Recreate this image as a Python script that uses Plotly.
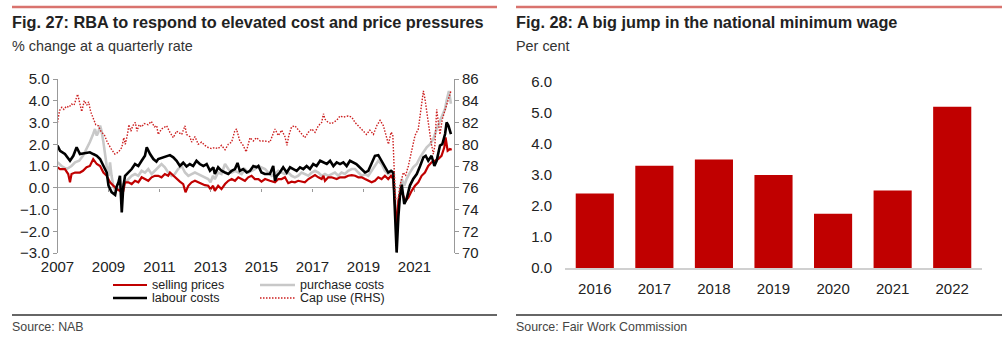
import plotly.graph_objects as go

W, H = 1008, 343
FONT = "Liberation Sans, Arial, sans-serif"

# ---------------- Fig. 27 data (decimal years) ----------------
labour_t = [2007.00,2007.10,2007.29,2007.42,2007.49,2007.62,2007.75,2007.88,2008.08,2008.27,2008.40,2008.54,2008.67,2008.80,2008.93,
            2009.00,2009.12,2009.26,2009.32,2009.39,2009.45,2009.52,2009.58,2009.65,2009.78,2009.91,2010.04,2010.17,2010.30,2010.43,
            2010.50,2010.63,2010.76,2010.88,2010.95,2011.15,2011.28,2011.41,2011.54,2011.67,2011.80,2011.93,2012.06,2012.19,2012.32,
            2012.45,2012.58,2012.72,2012.85,2012.98,2013.11,2013.17,2013.30,2013.43,2013.57,2013.70,2013.83,2013.96,2014.06,2014.15,
            2014.28,2014.42,2014.55,2014.68,2014.81,2014.88,2015.00,2015.13,2015.33,2015.46,2015.53,2015.60,2015.72,2015.85,2015.99,
            2016.12,2016.25,2016.38,2016.51,2016.64,2016.77,2016.90,2017.03,2017.16,2017.30,2017.43,2017.56,2017.69,2017.82,2017.95,
            2018.08,2018.21,2018.34,2018.47,2018.60,2018.72,2018.80,2018.93,2019.06,2019.19,2019.32,2019.45,2019.58,2019.71,2019.84,
            2019.97,2020.08,2020.17,2020.24,2020.30,2020.37,2020.43,2020.50,2020.60,2020.69,2020.82,2020.95,2021.09,2021.22,2021.35,
            2021.44,2021.54,2021.67,2021.78,2021.87,2022.00,2022.09,2022.20,2022.26,2022.33,2022.43]
labour_v = [1.94,1.70,1.55,1.35,1.24,1.47,1.86,1.55,1.60,1.63,1.55,1.47,1.32,1.00,0.70,
            0.10,-0.20,-0.33,0.05,0.25,0.55,-1.13,0.05,0.55,0.70,0.86,1.09,1.00,1.24,1.47,
            1.86,1.55,1.32,1.20,1.32,1.40,1.47,1.50,1.40,1.24,1.00,1.15,0.98,1.09,1.00,
            1.24,1.09,1.00,1.09,0.78,0.94,0.63,0.94,0.78,0.70,0.63,0.78,0.86,1.14,0.78,
            0.86,0.70,0.78,1.00,0.94,1.00,0.70,0.63,0.63,1.00,0.32,0.55,0.70,0.94,0.70,
            0.94,0.86,0.78,0.94,0.86,1.00,0.86,1.09,1.00,1.24,1.17,1.09,1.24,1.00,1.17,
            1.09,1.17,1.00,1.24,1.17,1.09,1.00,0.86,0.70,0.78,1.17,1.47,1.50,1.24,0.94,
            0.70,0.78,0.70,-1.30,-2.98,-1.30,-0.37,0.14,-0.75,-0.52,0.10,0.40,0.63,1.00,1.40,
            1.47,1.24,1.47,1.00,1.24,1.94,2.00,2.47,3.00,2.86,2.47]

selling_t = [2007.00,2007.10,2007.29,2007.42,2007.49,2007.55,2007.69,2007.88,2008.00,2008.14,2008.27,2008.40,2008.54,2008.67,2008.80,
             2008.93,2009.06,2009.19,2009.32,2009.45,2009.58,2009.65,2009.78,2009.91,2010.04,2010.17,2010.30,2010.43,2010.56,2010.69,
             2010.82,2010.95,2011.08,2011.21,2011.34,2011.41,2011.54,2011.67,2011.80,2011.93,2012.02,2012.13,2012.26,2012.39,2012.52,
             2012.65,2012.78,2012.91,2013.00,2013.10,2013.17,2013.30,2013.43,2013.57,2013.70,2013.83,2013.96,2014.09,2014.22,2014.35,
             2014.48,2014.61,2014.74,2014.88,2015.00,2015.14,2015.33,2015.53,2015.66,2015.79,2015.92,2016.05,2016.18,2016.31,2016.44,
             2016.57,2016.70,2016.84,2016.97,2017.10,2017.23,2017.36,2017.43,2017.49,2017.62,2017.75,2017.95,2018.08,2018.27,2018.40,
             2018.54,2018.67,2018.80,2018.93,2019.06,2019.19,2019.32,2019.45,2019.58,2019.71,2019.84,2019.97,2020.08,2020.17,2020.24,
             2020.30,2020.37,2020.43,2020.50,2020.56,2020.65,2020.76,2020.89,2021.02,2021.15,2021.28,2021.41,2021.54,2021.67,2021.80,
             2021.93,2022.06,2022.17,2022.22,2022.30,2022.39,2022.46]
selling_v = [0.94,0.86,0.86,0.63,0.25,0.63,0.70,0.70,0.78,0.94,1.00,1.32,1.09,1.00,0.70,
             0.55,0.25,0.09,-0.06,-0.14,-0.14,0.25,0.25,0.17,0.32,0.25,0.48,0.40,0.32,0.48,
             0.55,0.55,0.48,0.63,0.55,0.70,0.55,0.40,0.28,0.17,-0.21,0.09,0.25,0.32,0.25,
             0.17,0.12,0.09,-0.06,0.09,-0.14,0.09,-0.06,0.17,0.32,0.40,0.32,0.48,0.40,0.32,
             0.48,0.55,0.40,0.40,0.28,0.40,0.32,0.25,0.40,0.40,0.48,0.21,0.28,0.25,0.32,
             0.28,0.25,0.40,0.48,0.58,0.48,0.40,0.55,0.32,0.48,0.48,0.40,0.48,0.48,0.55,
             0.58,0.55,0.48,0.48,0.40,0.32,0.25,0.32,0.48,0.40,0.55,0.40,0.55,0.40,-0.68,
             -1.90,-0.60,-0.30,-0.22,-0.37,-0.60,-0.45,-0.14,0.09,0.25,0.55,0.70,1.00,1.17,1.24,
             1.32,1.47,1.86,2.32,1.70,1.78,1.75]

purchase_t = [2007.00,2007.16,2007.36,2007.55,2007.69,2007.85,2008.00,2008.14,2008.27,2008.40,2008.47,2008.54,2008.60,2008.67,2008.73,
              2008.80,2008.86,2008.93,2009.00,2009.06,2009.12,2009.19,2009.26,2009.39,2009.52,2009.65,2009.78,2009.91,2010.04,2010.17,
              2010.30,2010.43,2010.56,2010.69,2010.82,2010.95,2011.08,2011.21,2011.34,2011.47,2011.60,2011.73,2011.87,2012.00,2012.13,
              2012.26,2012.39,2012.52,2012.65,2012.78,2012.91,2013.00,2013.10,2013.17,2013.30,2013.43,2013.57,2013.70,2013.83,2013.96,
              2014.09,2014.22,2014.35,2014.48,2014.61,2014.74,2014.88,2015.01,2015.14,2015.27,2015.40,2015.53,2015.66,2015.79,2015.92,
              2016.05,2016.18,2016.31,2016.44,2016.57,2016.70,2016.84,2016.97,2017.10,2017.23,2017.36,2017.49,2017.62,2017.75,2017.88,
              2018.01,2018.14,2018.27,2018.40,2018.54,2018.67,2018.80,2018.93,2019.06,2019.19,2019.32,2019.45,2019.58,2019.71,2019.84,
              2019.97,2020.08,2020.17,2020.24,2020.30,2020.37,2020.43,2020.50,2020.60,2020.69,2020.82,2020.95,2021.09,2021.22,2021.35,
              2021.48,2021.61,2021.74,2021.87,2022.00,2022.09,2022.20,2022.26,2022.35,2022.43]
purchase_v = [1.17,1.00,0.86,1.00,1.17,1.24,1.47,1.78,2.10,2.47,2.70,2.40,2.55,2.86,2.60,
              2.10,1.47,1.00,0.55,1.17,0.55,0.09,-0.14,-0.06,0.09,0.25,0.40,0.55,0.63,0.55,
              0.78,0.70,0.86,0.63,0.78,0.94,1.09,0.94,0.70,0.55,0.63,0.86,1.00,0.70,0.55,
              0.63,0.70,0.63,0.55,0.48,0.40,0.25,0.55,0.40,0.70,0.63,1.09,0.86,0.70,0.78,
              0.70,0.63,0.86,0.70,0.78,0.86,1.00,0.94,0.86,0.70,0.55,0.63,0.78,0.70,0.63,
              0.70,0.55,0.48,0.55,0.70,0.63,0.55,0.70,0.78,0.70,0.55,0.63,0.55,0.63,0.70,
              0.55,0.70,0.63,0.78,0.86,0.86,0.70,0.55,0.63,0.55,0.78,1.00,1.24,1.09,0.78,
              0.63,0.70,0.63,-0.68,-1.60,-0.68,-0.06,0.40,0.09,0.40,0.70,0.94,1.09,1.40,1.63,
              1.86,2.00,2.24,2.70,3.09,3.32,3.63,4.00,4.45,3.86]

capuse_t = [2007.00,2007.08,2007.17,2007.25,2007.35,2007.45,2007.55,2007.65,2007.79,2007.88,2007.95,2008.05,2008.15,2008.22,2008.30,
            2008.40,2008.50,2008.60,2008.70,2008.85,2008.95,2009.10,2009.25,2009.40,2009.52,2009.60,2009.66,2009.75,2009.80,2009.88,
            2009.95,2010.05,2010.12,2010.20,2010.30,2010.40,2010.55,2010.68,2010.80,2010.89,2010.95,2011.08,2011.28,2011.41,2011.54,
            2011.67,2011.87,2012.00,2012.06,2012.19,2012.26,2012.39,2012.52,2012.65,2012.78,2012.91,2013.04,2013.17,2013.30,2013.43,
            2013.57,2013.70,2013.83,2013.95,2014.02,2014.15,2014.28,2014.40,2014.55,2014.68,2014.80,2014.95,2015.14,2015.33,2015.46,
            2015.53,2015.66,2015.79,2015.92,2016.00,2016.07,2016.18,2016.31,2016.44,2016.57,2016.70,2016.84,2016.97,2017.10,2017.23,
            2017.36,2017.43,2017.49,2017.62,2017.75,2017.95,2018.08,2018.21,2018.40,2018.54,2018.67,2018.80,2018.93,2019.12,2019.25,
            2019.39,2019.52,2019.65,2019.78,2019.91,2019.98,2020.08,2020.15,2020.21,2020.26,2020.37,2020.43,2020.50,2020.56,2020.65,
            2020.76,2020.89,2021.02,2021.15,2021.22,2021.28,2021.35,2021.41,2021.48,2021.57,2021.65,2021.74,2021.80,2021.87,2021.93,
            2022.00,2022.09,2022.17,2022.26,2022.35,2022.43]
capuse_v = [82.0,83.1,83.4,83.2,83.5,83.4,83.7,83.6,84.6,83.8,83.0,84.0,83.6,83.9,83.0,
            82.4,81.8,81.7,81.2,80.8,80.2,79.6,79.1,79.3,79.7,80.6,80.0,81.0,81.8,81.2,
            81.7,82.0,81.2,81.8,81.6,81.9,81.8,82.1,81.6,81.7,80.9,81.4,81.7,81.1,80.6,
            81.2,80.9,81.7,80.9,80.7,80.2,80.7,80.0,80.2,79.9,79.7,79.6,79.7,79.6,79.9,
            79.5,80.0,80.2,81.2,81.4,80.3,79.9,79.3,80.6,80.3,80.6,80.3,80.3,80.2,81.1,
            81.4,80.8,81.3,80.7,79.9,80.8,81.6,81.7,81.3,80.9,80.6,81.1,81.4,81.1,81.7,
            82.0,82.8,82.3,82.0,81.9,82.2,82.6,82.5,82.6,82.5,82.0,81.7,81.4,80.9,81.3,
            80.9,81.7,82.2,81.7,80.6,80.0,81.1,80.9,77.4,75.0,75.1,76.2,76.8,77.4,77.1,
            78.0,79.4,80.8,81.4,82.6,83.6,84.9,84.2,82.9,81.4,80.2,79.1,79.9,83.2,82.0,
            80.9,82.3,82.9,83.4,84.2,84.9]

year_ticks = [2007, 2009, 2011, 2013, 2015, 2017, 2019, 2021]

# ---------------- Fig. 28 data ----------------
wage_years = ["2016", "2017", "2018", "2019", "2020", "2021", "2022"]
wage_rise = [2.4, 3.3, 3.5, 3.0, 1.75, 2.5, 5.2]

# ---------------- helpers (pixel -> paper) ----------------
def px(x):
    return x / W

def py(y):
    return 1 - y / H

RED = "#c00000"
GREY = "#c8c8c8"
BLACK = "#000000"
CAPRED = "#cc1f1f"
CAPDASH = "1.5px,1.5px"

L_X0, L_X1 = 57.5, 454
L_Y0, L_Y1 = 79, 253
R_X0, R_X1 = 565, 982
R_Y0, R_Y1 = 82, 268

fig = go.Figure()

fig.add_trace(go.Scatter(x=capuse_t, y=capuse_v, name="Cap use (RHS)", mode="lines",
                         line=dict(color=CAPRED, width=1.4, dash=CAPDASH), xaxis="x", yaxis="y2"))
fig.add_trace(go.Scatter(x=purchase_t, y=purchase_v, name="purchase costs", mode="lines",
                         line=dict(color=GREY, width=2.6), xaxis="x", yaxis="y"))
fig.add_trace(go.Scatter(x=selling_t, y=selling_v, name="selling prices", mode="lines",
                         line=dict(color=RED, width=2.2), xaxis="x", yaxis="y"))
fig.add_trace(go.Scatter(x=labour_t, y=labour_v, name="labour costs", mode="lines",
                         line=dict(color=BLACK, width=2.6), xaxis="x", yaxis="y"))
# invisible trace for the tick axis on the zero line
fig.add_trace(go.Scatter(x=[year_ticks[0]], y=[0], mode="markers", marker=dict(opacity=0),
                         hoverinfo="skip", xaxis="x3", yaxis="y"))

fig.add_trace(go.Bar(x=wage_years, y=wage_rise, marker=dict(color=RED, line=dict(width=0)),
                     xaxis="x2", yaxis="y3", name="min wage"))

ydom = [py(L_Y1), py(L_Y0)]
zero_pos = ydom[0] + (0 - (-3)) / 8 * (ydom[1] - ydom[0])
xrange_l = [2007, 2022.55]

tickfont_l = dict(family=FONT, size=15, color="#222")
tickfont_r = dict(family=FONT, size=15, color="#222")

fig.update_layout(
    width=W, height=H, margin=dict(l=0, r=0, t=0, b=0, autoexpand=False),
    paper_bgcolor="white", plot_bgcolor="white", showlegend=False,
    font=dict(family=FONT, color="#222"),
    bargap=0.36,
    xaxis=dict(domain=[px(L_X0), px(L_X1)], range=xrange_l, tickvals=year_ticks,
               ticktext=[str(y) for y in year_ticks], showgrid=False, zeroline=False,
               showline=False, ticks="", tickfont=tickfont_l, anchor="y", ticklabelstandoff=3,
               automargin=False),
    xaxis3=dict(overlaying="x", anchor="free", position=zero_pos, range=xrange_l,
                tickvals=year_ticks, showticklabels=False, ticks="outside", ticklen=3,
                tickcolor="#999", showgrid=False, zeroline=False, showline=False, automargin=False),
    yaxis=dict(domain=ydom, range=[-3, 5], dtick=1, tickformat=".1f", showgrid=False,
               zeroline=True, zerolinecolor="#aaa", zerolinewidth=1, showline=True,
               linecolor="#999", ticks="outside", ticklen=4, tickcolor="#999",
               tickfont=tickfont_l, anchor="x", automargin=False),
    yaxis2=dict(overlaying="y", side="right", anchor="x", range=[70, 86], dtick=2,
                showgrid=False, zeroline=False, showline=True, linecolor="#999",
                ticks="outside", ticklen=4, tickcolor="#999", tickfont=tickfont_l, automargin=False),
    xaxis2=dict(domain=[px(R_X0), px(R_X1)], type="category", anchor="y3", showline=True,
                linecolor="#d0d0d0", linewidth=1.5, ticks="", showgrid=False,
                tickfont=tickfont_r, ticklabelstandoff=6, automargin=False),
    yaxis3=dict(domain=[py(R_Y1), py(R_Y0)], range=[0, 6], dtick=1, tickformat=".1f",
                anchor="x2", showgrid=False, zeroline=False, showline=False, ticks="",
                tickfont=tickfont_r, ticklabelstandoff=12, automargin=False),
)

shapes = []
annotations = []

def text(x, y, s, size, bold=False, color="#222"):
    annotations.append(dict(xref="paper", yref="paper", x=px(x), y=py(y), text=(f"<b>{s}</b>" if bold else s),
                            showarrow=False, xanchor="left", yanchor="middle",
                            font=dict(family=FONT, size=size, color=color)))

def hline(x0, x1, y, color, width, dash="solid"):
    shapes.append(dict(type="line", xref="paper", yref="paper", x0=px(x0), x1=px(x1), y0=py(y), y1=py(y),
                       line=dict(color=color, width=width, dash=dash)))

# Panel headers
hline(12, 497, 7, "#d9736e", 2.5)
hline(516, 1002, 7, "#d9736e", 2.5)
text(10, 22, "Fig. 27: RBA to respond to elevated cost and price pressures", 16.3, bold=True)
text(514, 22, "Fig. 28: A big jump in the national minimum wage", 16.3, bold=True)
text(10, 46, "% change at a quarterly rate", 14.4, color="#333")
text(514, 46, "Per cent", 14.4, color="#333")

# Footers
hline(12, 497, 315, "#333", 1.5)
hline(516, 1002, 315, "#333", 1.5)
text(10, 327, "Source: NAB", 12.4, color="#444")
text(514, 327, "Source: Fair Work Commission", 12.4, color="#444")

# Legend for Fig. 27
hline(113, 147, 285, RED, 2.2)
text(150, 285, "selling prices", 12.5)
hline(260, 295, 285, GREY, 2.6)
text(298, 285, "purchase costs", 12.5)
hline(113, 147, 298, BLACK, 2.6)
text(150, 298, "labour costs", 12.5)
hline(260, 295, 298, CAPRED, 1.4, dash=CAPDASH)
text(298, 298, "Cap use (RHS)", 12.5)

fig.update_layout(shapes=shapes, annotations=annotations)
fig.write_html("out.html")
